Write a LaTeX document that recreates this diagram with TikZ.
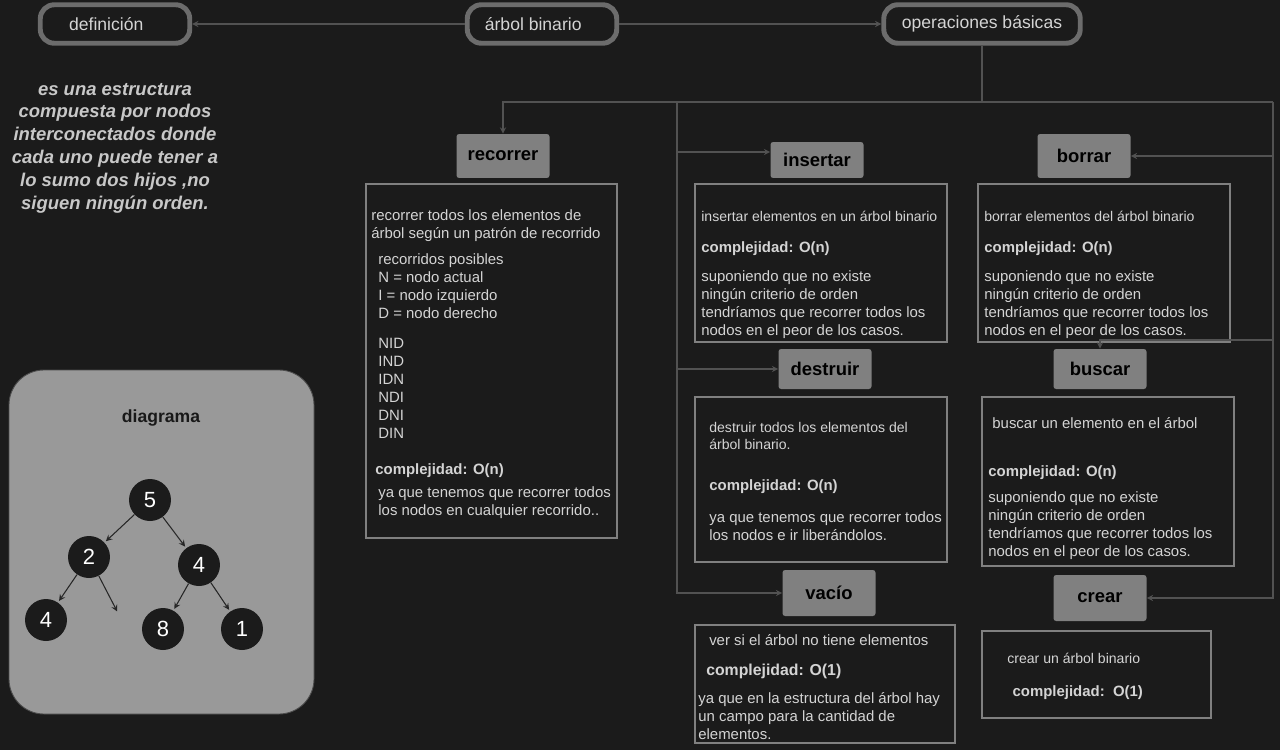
\documentclass[tikz,border=0pt]{standalone}
\usepackage{fontspec}
\setmainfont{Liberation Sans}
\usepackage{tikz}
\usetikzlibrary{positioning,fit,arrows}

\definecolor{fondo}{RGB}{27,27,27}
\definecolor{borde}{RGB}{108,108,108}
\definecolor{claro}{RGB}{212,212,212}
\definecolor{gris}{RGB}{128,128,128}
\definecolor{linea}{RGB}{82,82,82}
\definecolor{defc}{RGB}{200,200,200}
\definecolor{panelc}{RGB}{153,153,153}

\begin{document}
\begin{tikzpicture}[x=0.02cm, y=-0.02cm, >=stealth,
  tema/.style={draw=borde, line width=2.8pt, rounded corners=8pt, fill=fondo, text=claro, font=\fontsize{10}{12}\selectfont, minimum height=0.77cm},
  titulo/.style={fill=gris, text=black, font=\bfseries\fontsize{10.5}{12}\selectfont, rounded corners=1.5pt, minimum width=1.86cm},
  marco/.style={draw=gris, line width=0.8pt, inner sep=0pt},
  texto/.style={anchor=north west, inner sep=0pt, align=left, text=claro, font=\fontsize{8.5}{10.2}\selectfont},
  cable/.style={color=linea, line width=0.6pt},
  rama/.style={color=black!85, line width=0.6pt, shorten >=1pt},
  hoja/.style={circle, fill=fondo, text=white, font=\fontsize{12.5}{13}\selectfont, minimum size=0.84cm, inner sep=0pt}]

  \fill[fondo] (0,0) rectangle (1280,750);
  \useasboundingbox (0,0) rectangle (1280,750);

  \node[tema, minimum width=2.99cm] (definicion) at (115,24) {\hspace*{-10pt}definición};
  \node[tema, minimum width=2.99cm] (arbol) at (542,24) {\hspace*{-10pt}árbol binario};
  \node[tema, minimum width=3.93cm] (operaciones) at (982,24) {operaciones básicas};

  \node[font=\bfseries\itshape\fontsize{10.5}{13}\selectfont, text=defc, align=center] (definiciontxt) at (115,148)
    {es una estructura\\ compuesta por nodos\\ interconectados donde\\ cada uno puede tener a\\ lo sumo dos hijos ,no\\ siguen ningún orden.};

  \node[titulo, minimum height=0.88cm] (recorrer) at (503,156) {recorrer};
  \node[titulo, minimum height=0.72cm] (insertar) at (817,160) {insertar};
  \node[titulo, minimum height=0.88cm] (borrar) at (1084,156) {borrar};
  \node[titulo, minimum height=0.80cm] (destruir) at (825,369) {destruir};
  \node[titulo, minimum height=0.80cm] (buscar) at (1100,369) {buscar};
  \node[titulo, minimum height=0.92cm] (vacio) at (829,593) {vacío};
  \node[titulo, minimum height=0.92cm] (crear) at (1100,598) {crear};

  \node[marco, fit={(366,184) (617,538)}] (recorrerbox) {};
  \node[marco, fit={(695,184) (947,342)}] (insertarbox) {};
  \node[marco, fit={(978,184) (1230,342)}] (borrarbox) {};
  \node[marco, fit={(695,397) (947,562)}] (destruirbox) {};
  \node[marco, fit={(982,397) (1234,566)}] (buscarbox) {};
  \node[marco, fit={(695,625) (955,743)}] (vaciobox) {};
  \node[marco, fit={(982,631) (1211,718)}] (crearbox) {};

  \node[texto] (recorrertxt) at (371,209)
    {recorrer todos los elementos de\\[0.5pt]
     árbol según un patrón de recorrido\\[4.5pt]
     \hspace*{4pt}recorridos posibles\\
     \hspace*{4pt}N = nodo actual\\
     \hspace*{4pt}I = nodo izquierdo\\
     \hspace*{4pt}D = nodo derecho\\[6.8pt]
     \hspace*{4pt}NID\\ \hspace*{4pt}IND\\ \hspace*{4pt}IDN\\ \hspace*{4pt}NDI\\ \hspace*{4pt}DNI\\ \hspace*{4pt}DIN\\[10.8pt]
     \hspace*{2.3pt}\textbf{complejidad: O(n)}\\[2.8pt]
     \hspace*{4pt}ya que tenemos que recorrer todos\\
     \hspace*{4pt}los nodos en cualquier recorrido..};
  \node[texto] (insertartxt) at (701,211)
    {{\fontsize{8}{10}\selectfont insertar elementos en un árbol binario}\\[7.4pt]
     \textbf{complejidad: O(n)}\\[6.2pt]
     suponiendo que no existe\\
     ningún criterio de orden\\
     tendríamos que recorrer todos los\\
     nodos en el peor de los casos.};
  \node[texto] (borrartxt) at (984,211)
    {{\fontsize{8}{10}\selectfont borrar elementos del árbol binario}\\[7.4pt]
     \textbf{complejidad: O(n)}\\[6.2pt]
     suponiendo que no existe\\
     ningún criterio de orden\\
     tendríamos que recorrer todos los\\
     nodos en el peor de los casos.};
  \node[texto] (destruirtxt) at (709,422)
    {{\fontsize{8}{10}\selectfont destruir todos los elementos del}\\[-0.6pt]
     {\fontsize{8}{10}\selectfont árbol binario.}\\[13pt]
     \textbf{complejidad: O(n)}\\[8pt]
     ya que tenemos que recorrer todos\\
     los nodos e ir liberándolos.};
  \node[texto] (buscartxt) at (988,417)
    {\hspace*{2.3pt}buscar un elemento en el árbol\\[17pt]
     \textbf{complejidad: O(n)}\\[5pt]
     suponiendo que no existe\\
     ningún criterio de orden\\
     tendríamos que recorrer todos los\\
     nodos en el peor de los casos.};
  \node[texto] (vaciotxt) at (698,634)
    {\hspace*{6.2pt}ver si el árbol no tiene elementos\\[6.8pt]
     \hspace*{4.5pt}{\bfseries\fontsize{9}{11}\selectfont complejidad: O(1)}\\[5.7pt]
     ya que en la estructura del árbol hay\\
     un campo para la cantidad de\\
     elementos.};
  \node[texto] (creartxt) at (1007,653)
    {{\fontsize{8}{10}\selectfont crear un árbol binario}\\[8.5pt]
     \hspace*{3pt}\textbf{complejidad:\ \ O(1)}};

  \coordinate (eje) at (982,102);
  \coordinate (ejeizq) at (677,102);
  \coordinate (ejeder) at (1273,102);
  \coordinate (codo) at (1273,340);
  \coordinate (pinsertar) at ([yshift=0.16cm]insertar.west);

  \path[cable, ->]
    (arbol) edge (definicion)
    (arbol) edge (operaciones)
    (ejeizq |- pinsertar) edge (pinsertar)
    (ejeizq |- destruir) edge (destruir.west)
    (ejeder |- borrar) edge (borrar.east)
    ;
  \draw[cable] (operaciones.south) -- (eje);
  \draw[cable, ->] (eje) -| (recorrer.north);
  \draw[cable] (eje) -- (ejeder);
  \draw[cable, ->] (ejeizq) |- (vacio.west);
  \draw[cable, ->] (ejeder) |- (crear.east);
  \draw[cable, ->] (codo) -| (buscar.north);

  \node[draw=black!70, fill=panelc, rounded corners=0.7cm, line width=0.5pt, inner sep=0pt, fit={(9,370) (314,714)}] (diagrama) {};
  \node[font=\bfseries\fontsize{10}{12}\selectfont, text=black!90] (diagramatit) at (161,418) {diagrama};

  \node[hoja] (n5) at (150,500) {5};
  \node[hoja] (n2) at (89,557) {2};
  \node[hoja] (n4) at (199,565) {4};
  \node[hoja] (n4b) at (46,620) {4};
  \node[hoja] (n8) at (163,629) {8};
  \node[hoja] (n1) at (242,629) {1};
  \coordinate (nulo) at (118,613);

  \path[rama, ->]
    (n5) edge (n2)
    (n5) edge (n4)
    (n2) edge (n4b)
    (n2) edge (nulo)
    (n4) edge (n8)
    (n4) edge (n1)
    ;
\end{tikzpicture}
\end{document}
